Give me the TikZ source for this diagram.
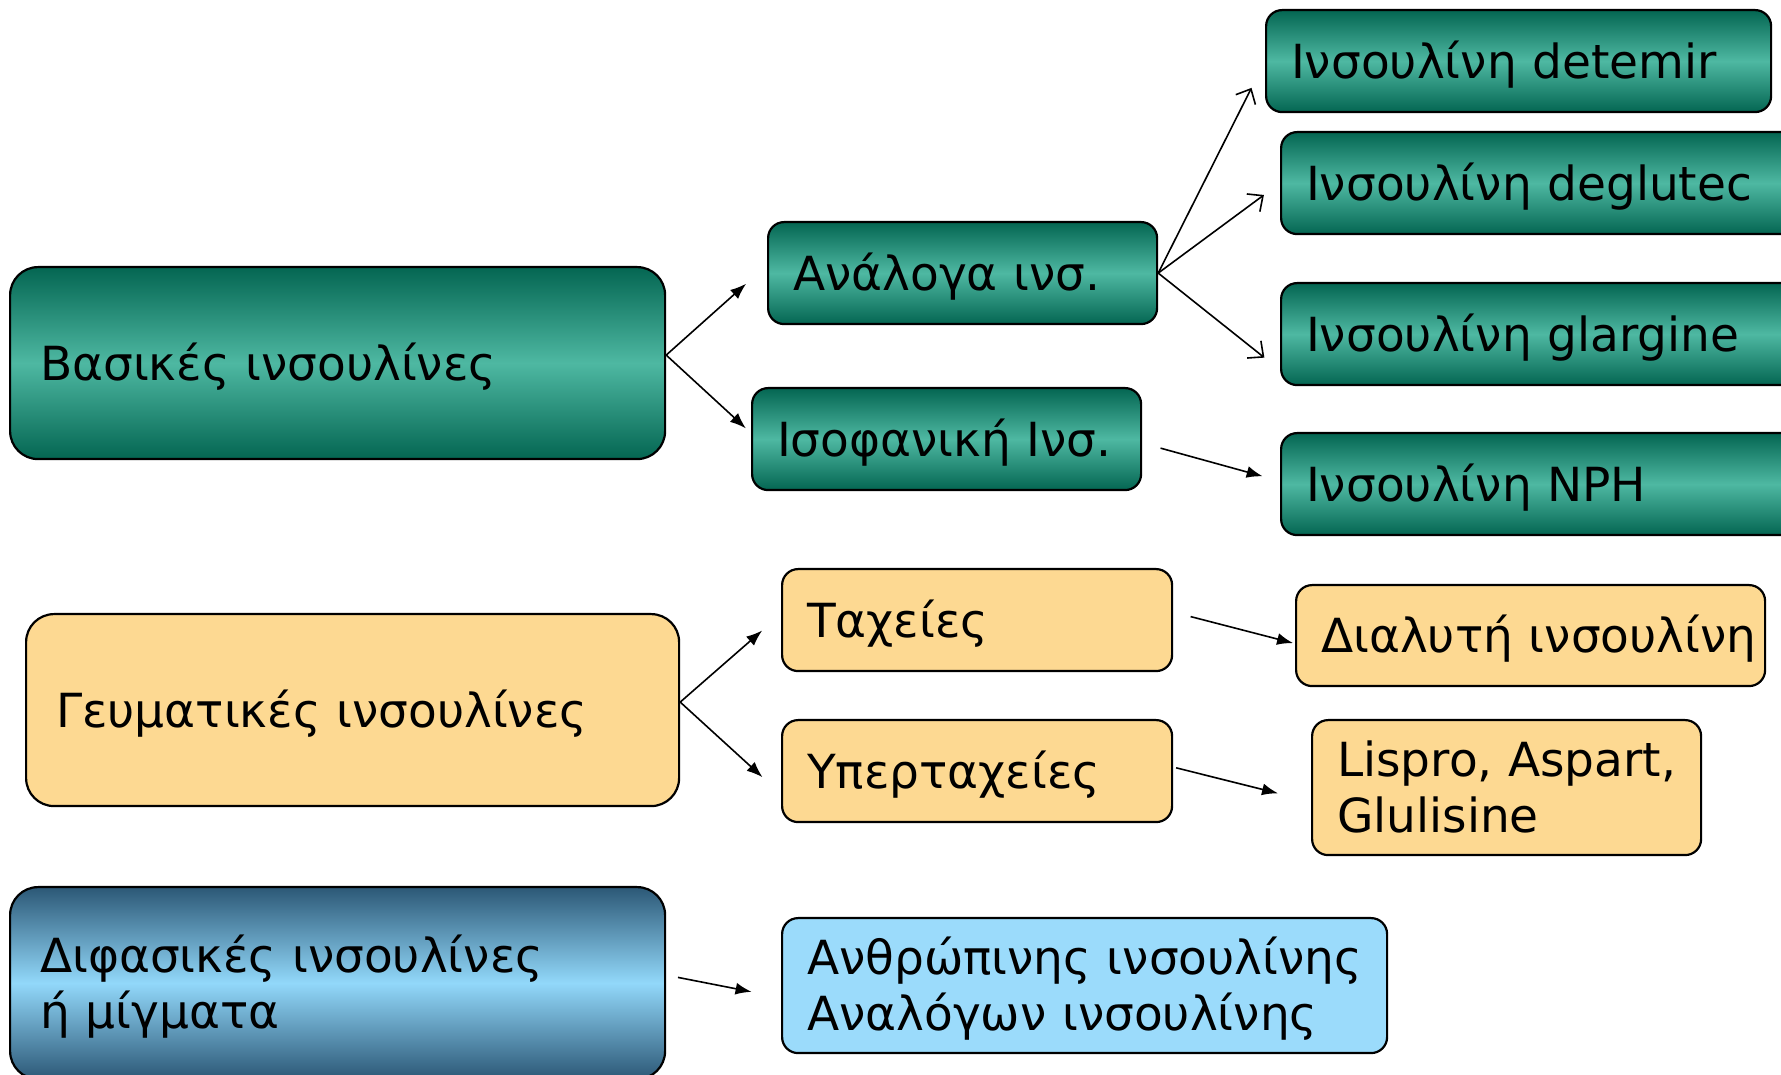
\documentclass[tikz,border=0pt]{standalone}
\usepackage{fontspec}
\setmainfont{DejaVu Sans}
\usepackage{tikz}
\usetikzlibrary{arrows.meta}
\definecolor{tealdark}{RGB}{4,102,82}
\definecolor{teallight}{RGB}{78,184,162}
\definecolor{bluedark}{RGB}{44,88,118}
\definecolor{bluelight}{RGB}{146,216,250}
\definecolor{paleblue}{RGB}{155,219,251}
\definecolor{sand}{RGB}{253,217,146}

\tikzset{
  box/.style={draw, line width=1.1pt, anchor=north west, align=left,
    rounded corners=8pt, inner xsep=12.5pt, minimum height=51pt,
    execute at begin node={\rule{0pt}{23.5pt}},
    execute at end node={\rule[-6.3pt]{0pt}{6.3pt}}},
  bigbox/.style={box, rounded corners=14pt, inner xsep=15pt, minimum height=96pt},
  tealfill/.style={top color=tealdark, bottom color=tealdark, middle color=teallight},
  sandfill/.style={fill=sand},
  bluefill/.style={top color=bluedark, bottom color=bluedark, middle color=bluelight},
  arr/.style={line width=0.8pt, -{Latex[length=8pt,width=6pt]}},
  barb/.style={line width=0.8pt, -{Straight Barb[length=6pt,width=11pt]}}
}

\begin{document}
\begin{tikzpicture}[x=1pt,y=1pt,font=\fontsize{23.5pt}{28pt}\selectfont]
\useasboundingbox (0,0) rectangle (890.5,537.5);
% basal
\node[bigbox,tealfill,text width=297.5pt] (bas) at (4.5,404.5) {Βασικές ινσουλίνες};
\node[box,tealfill,text width=169.5pt] (anal) at (383.5,427) {Ανάλογα ινσ.};
\node[box,tealfill,text width=169.5pt] (iso) at (375.5,344) {Ισοφανική Ινσ.};
\node[box,tealfill,text width=227.5pt] (det) at (632.5,533) {Ινσουλίνη detemir};
\node[box,tealfill,text width=245pt] (deg) at (640,472) {Ινσουλίνη deglutec};
\node[box,tealfill,text width=245pt] (gla) at (640,396.5) {Ινσουλίνη glargine};
\node[box,tealfill,text width=245pt] (nph) at (640,321.5) {Ινσουλίνη NPH};
% prandial
\node[bigbox,sandfill,text width=296.5pt] (geu) at (12.5,231) {Γευματικές ινσουλίνες};
\node[box,sandfill,text width=170pt] (tax) at (390.5,253.5) {Ταχείες};
\node[box,sandfill,text width=209.5pt,minimum height=50.5pt] (dia) at (647.5,245.5) {\mbox{Διαλυτή ινσουλίνη}};
\node[box,sandfill,text width=170pt] (yper) at (390.5,178) {Υπερταχείες};
\node[box,sandfill,text width=169.5pt,minimum height=67.5pt] (lis) at (655.5,178) {\mbox{Lispro, Aspart,}\\Glulisine};
% mixtures
\node[bigbox,bluefill,text width=297.5pt] (dif) at (4.5,94.5) {Διφασικές ινσουλίνες\\ή μίγματα};
\node[box,fill=paleblue,text width=277.5pt,minimum height=67.5pt] (anth) at (390.5,79) {\mbox{Ανθρώπινης ινσουλίνης}\\\mbox{Αναλόγων ινσουλίνης}};

\draw[arr,shorten >=14pt] ([yshift=4pt]bas.east) -- ([yshift=4pt]anal.west);
\draw[arr,shorten >=3.5pt] ([yshift=4pt]bas.east) -- ([yshift=3pt]iso.west);
\draw[barb,shorten >=15pt] (anal.east) -- (det.west);
\draw[barb,shorten >=10pt] (anal.east) -- (deg.west);
\draw[barb,shorten >=10pt] (anal.east) -- ([yshift=-18pt]gla.west);
\draw[arr,shorten <=9.5pt,shorten >=9pt] ([yshift=-2pt]iso.east) -- ([yshift=1.5pt]nph.west);

\draw[arr,shorten >=12.5pt] ([yshift=4pt]geu.east) -- ([yshift=3pt]tax.west);
\draw[arr,shorten >=12.5pt] ([yshift=4pt]geu.east) -- ([yshift=-11.5pt]yper.west);
\draw[arr,shorten <=9pt,shorten >=1pt] ([yshift=4pt]tax.east) -- ([yshift=-4pt]dia.west);
\draw[arr,shorten <=1.5pt,shorten >=17pt] ([yshift=2pt]yper.east) -- ([yshift=-7pt]lis.west);

\draw[arr,shorten <=6pt,shorten >=15pt] ([yshift=4pt]dif.east) -- ([yshift=-6pt]anth.west);
\end{tikzpicture}
\end{document}
